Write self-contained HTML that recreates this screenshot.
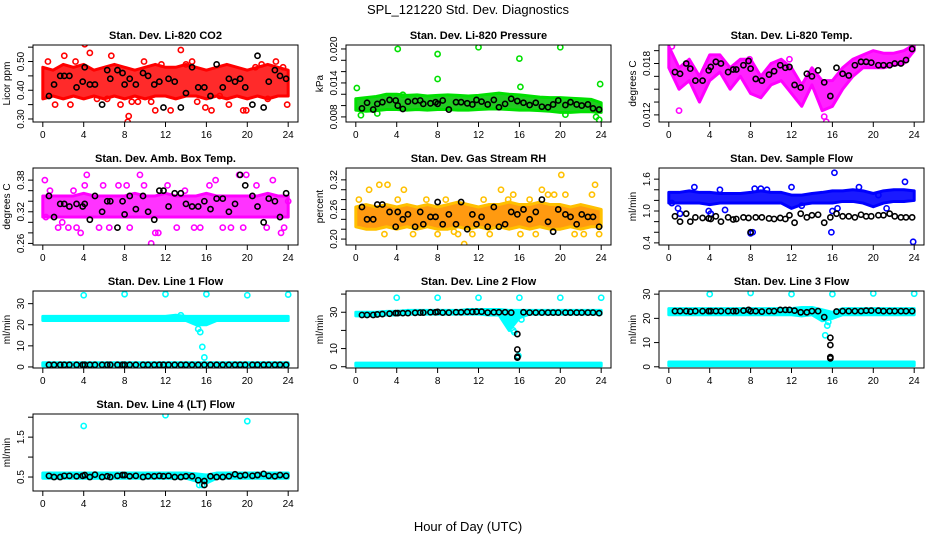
<!DOCTYPE html>
<html><head><meta charset="utf-8">
<style>
html,body{margin:0;padding:0;background:#fff;}
svg{display:block;font-family:"Liberation Sans",sans-serif;}
</style></head>
<body>
<svg id="chart" width="936" height="540" viewBox="0 0 936 540">
<text x="468" y="14" text-anchor="middle" font-size="13">SPL_121220  Std. Dev. Diagnostics</text>
<text x="468" y="531" text-anchor="middle" font-size="13">Hour of Day (UTC)</text>
</svg>
<script>
const bandHours=[0,1,2,3,4,5,6,7,8,9,10,11,12,13,14,15,16,17,18,19,20,21,22,23,24];
const blackHours=[0.6,1.1,1.7,2.1,2.6,3.3,3.9,4.1,4.6,5.1,5.8,6.3,6.6,7.3,7.8,8.0,8.5,9.1,9.8,10.3,10.9,11.4,11.8,12.3,12.9,13.5,14.0,14.6,15.2,15.8,16.4,17.0,17.6,18.2,18.8,19.3,19.8,20.5,21.0,21.6,22.1,22.7,23.2,23.8];
const xTicks=[0,4,8,12,16,20,24];

// Panel 1: CO2
const co2Lo=[0.37,0.38,0.37,0.38,0.37,0.38,0.37,0.38,0.37,0.38,0.37,0.38,0.38,0.37,0.38,0.38,0.37,0.38,0.37,0.38,0.37,0.38,0.37,0.38,0.38];
const co2Hi=[0.48,0.47,0.49,0.48,0.49,0.47,0.48,0.49,0.48,0.47,0.48,0.49,0.48,0.48,0.49,0.48,0.47,0.48,0.49,0.48,0.47,0.48,0.49,0.48,0.47];
const co2OutH=[0.5,1.2,2.1,2.7,3.2,4.1,4.6,5.3,6.3,6.7,7.6,8.3,8.4,8.7,9.3,9.9,10.6,11.0,11.6,12.5,13.5,14.0,14.6,15.1,15.9,16.5,17.3,18.2,19.6,19.9,20.8,21.4,22.0,22.8,23.5,23.9];
const co2OutV=[0.50,0.35,0.52,0.35,0.50,0.56,0.53,0.37,0.37,0.52,0.35,0.29,0.31,0.36,0.36,0.50,0.36,0.33,0.49,0.33,0.54,0.49,0.50,0.36,0.34,0.33,0.38,0.35,0.33,0.33,0.48,0.49,0.37,0.50,0.48,0.35];
const co2Black=[0.38,0.42,0.45,0.45,0.45,0.41,0.43,0.48,0.42,0.42,0.35,0.47,0.44,0.47,0.46,0.42,0.44,0.42,0.46,0.45,0.42,0.43,0.34,0.44,0.43,0.34,0.39,0.48,0.41,0.41,0.38,0.49,0.41,0.44,0.43,0.44,0.41,0.35,0.52,0.34,0.43,0.47,0.45,0.44];

// Panel 2: Pressure
const presLo=[0.0092,0.0090,0.0091,0.0093,0.0093,0.0092,0.0093,0.0092,0.0093,0.0093,0.0092,0.0092,0.0093,0.0094,0.0094,0.0093,0.0092,0.0092,0.0091,0.0090,0.0088,0.0088,0.0089,0.0089,0.0088];
const presHi=[0.0112,0.0114,0.0116,0.0120,0.0120,0.0118,0.0119,0.0117,0.0118,0.0119,0.0118,0.0117,0.0118,0.0120,0.0122,0.0120,0.0119,0.0117,0.0115,0.0114,0.0114,0.0113,0.0112,0.0111,0.0105];
const presOutH=[0.1,0.5,2.1,4.1,4.6,8.0,8.0,12.0,16.0,16.1,20.0,23.9,23.8,23.5,20.5];
const presOutV=[0.0131,0.0083,0.0086,0.0200,0.0119,0.0191,0.0147,0.0203,0.0183,0.0133,0.0203,0.0138,0.0075,0.0080,0.0084];
const presBlack=[0.0095,0.0105,0.0093,0.0103,0.0106,0.0110,0.0109,0.0100,0.0094,0.0107,0.0108,0.0109,0.0103,0.0104,0.0106,0.0103,0.0109,0.0093,0.0106,0.0106,0.0104,0.0102,0.0110,0.0107,0.0102,0.0110,0.0097,0.0103,0.0112,0.0108,0.0105,0.0101,0.0105,0.0098,0.0097,0.0102,0.0109,0.0101,0.0106,0.0102,0.0100,0.0102,0.0095,0.0093];

// Panel 3: Li-820 Temp
const tempLo=[0.0175,0.0150,0.0160,0.0135,0.0160,0.0170,0.0150,0.0165,0.0145,0.0140,0.0155,0.0160,0.0145,0.0130,0.0155,0.0125,0.0130,0.0150,0.0165,0.0175,0.0175,0.0175,0.0178,0.0180,0.0195];
const tempHi=[0.0200,0.0175,0.0185,0.0165,0.0190,0.0190,0.0175,0.0185,0.0185,0.0165,0.0180,0.0185,0.0175,0.0155,0.0175,0.0160,0.0160,0.0175,0.0185,0.0190,0.0195,0.0192,0.0192,0.0195,0.0202];
const tempOutH=[0.3,1.0,15.4,15.2,7.9,11.8];
const tempOutV=[0.0200,0.0125,0.0112,0.0118,0.0185,0.0185];
const tempBlack=[0.0170,0.0168,0.0180,0.0174,0.0160,0.0160,0.0172,0.0176,0.0182,0.0180,0.0170,0.0173,0.0173,0.0178,0.0183,0.0174,0.0162,0.0160,0.0167,0.0171,0.0178,0.0175,0.0176,0.0155,0.0152,0.0168,0.0165,0.0172,0.0158,0.0142,0.0175,0.0168,0.0166,0.0178,0.0182,0.0182,0.0181,0.0178,0.0178,0.0178,0.0180,0.0180,0.0184,0.0197];

// Panel 4: Amb Box Temp
const ambLo=[0.31,0.31,0.31,0.31,0.31,0.31,0.31,0.31,0.31,0.31,0.31,0.31,0.31,0.31,0.31,0.31,0.31,0.31,0.31,0.31,0.31,0.31,0.31,0.31,0.31];
const ambHi=[0.35,0.35,0.35,0.35,0.355,0.35,0.35,0.35,0.35,0.355,0.35,0.35,0.355,0.35,0.35,0.35,0.355,0.35,0.35,0.35,0.35,0.35,0.355,0.35,0.35];
const ambOutH=[0.2,0.3,0.7,1.5,1.9,2.5,3.0,3.3,4.1,4.3,5.5,5.9,6.5,7.4,8.5,9.5,9.9,10.6,11.0,11.3,12.2,13.1,13.9,14.8,15.4,16.3,16.9,17.6,18.4,19.2,19.6,19.9,20.9,21.9,22.5,23.3,23.6,24.0,3.7,8.2];
const ambOutV=[0.38,0.31,0.36,0.29,0.30,0.29,0.36,0.29,0.37,0.39,0.29,0.37,0.29,0.37,0.29,0.39,0.37,0.26,0.28,0.28,0.37,0.29,0.36,0.29,0.29,0.37,0.38,0.29,0.29,0.39,0.29,0.39,0.37,0.29,0.38,0.28,0.29,0.34,0.28,0.37];
const ambBlack=[0.35,0.31,0.335,0.335,0.33,0.335,0.33,0.335,0.305,0.35,0.32,0.34,0.34,0.29,0.34,0.315,0.35,0.325,0.35,0.32,0.305,0.36,0.36,0.33,0.355,0.355,0.335,0.33,0.33,0.34,0.325,0.345,0.345,0.32,0.335,0.39,0.37,0.35,0.33,0.30,0.345,0.34,0.31,0.355];

// Panel 5: Gas Stream RH
const rhLo=[0.225,0.22,0.22,0.225,0.22,0.225,0.22,0.225,0.22,0.22,0.225,0.22,0.225,0.22,0.225,0.22,0.225,0.22,0.225,0.22,0.22,0.225,0.22,0.225,0.225];
const rhHi=[0.265,0.27,0.265,0.27,0.265,0.27,0.265,0.27,0.265,0.27,0.275,0.27,0.265,0.27,0.27,0.275,0.27,0.27,0.275,0.27,0.27,0.265,0.27,0.265,0.26];
const rhOutH=[0.3,1.3,2.3,2.8,3.1,4.1,4.7,5.6,6.9,8.0,8.8,9.6,10.0,10.6,11.4,12.5,13.1,14.2,14.9,15.4,16.1,17.0,17.6,18.2,18.8,19.4,20.1,20.5,21.4,22.3,23.1,23.4,23.8];
const rhOutV=[0.28,0.30,0.31,0.21,0.31,0.28,0.30,0.21,0.28,0.21,0.28,0.215,0.21,0.19,0.21,0.28,0.21,0.30,0.28,0.29,0.21,0.28,0.21,0.30,0.29,0.29,0.33,0.29,0.21,0.21,0.29,0.31,0.21];
const rhBlack=[0.265,0.24,0.24,0.27,0.27,0.255,0.225,0.255,0.24,0.25,0.225,0.255,0.23,0.245,0.245,0.275,0.23,0.25,0.23,0.275,0.22,0.25,0.23,0.245,0.225,0.265,0.225,0.23,0.255,0.25,0.26,0.24,0.255,0.28,0.235,0.215,0.26,0.25,0.245,0.23,0.25,0.245,0.245,0.225];

// Panel 6: Sample Flow
const flowLo=[1.15,1.15,1.15,1.15,1.12,1.15,1.15,1.15,1.15,1.15,1.15,1.15,1.05,1.12,1.15,1.15,1.15,1.18,1.18,1.15,1.08,1.15,1.18,1.18,1.2];
const flowHi=[1.35,1.35,1.38,1.35,1.35,1.33,1.33,1.33,1.35,1.38,1.35,1.35,1.3,1.3,1.33,1.35,1.38,1.38,1.4,1.38,1.33,1.38,1.4,1.4,1.38];
const flowOutH=[0.3,0.9,1.1,2.5,3.9,4.1,5.0,5.5,8.0,8.2,8.4,9.0,12.0,15.9,16.2,16.0,16.5,18.6,20.5,21.3,23.1,23.9,9.6,13.0];
const flowOutV=[1.15,1.05,0.95,1.45,1.0,0.95,1.4,1.02,0.58,0.6,1.42,1.42,1.45,0.6,1.72,1.0,1.05,1.45,1.3,1.05,1.55,0.42,1.4,1.1];
const flowBlack=[0.9,0.8,0.95,0.8,0.88,0.87,0.86,0.85,0.9,0.8,0.88,0.84,0.85,0.88,0.87,0.6,0.88,0.88,0.86,0.85,0.87,0.85,0.92,0.78,0.95,0.88,0.92,0.93,0.78,0.88,0.95,0.9,0.9,0.88,0.93,0.9,0.9,0.92,0.92,0.95,0.9,0.88,0.88,0.88];

// Panel 7: Line 1 Flow
const l1Lo=[22,22,22,22,22,22,22,22,22,22,22,22,22,22,22,20,20,22,22,22,22,22,22,22,22];
const l1Hi=[24,24,24,24,24,24,24,24,24,24,24,24,24,24.5,24,24,24,24,24,24,24,24,24,24,24];
const l1LowLo=[0.5,0.5,0.5,0.5,0.5,0.5,0.5,0.5,0.5,0.5,0.5,0.5,0.5,0.5,0.5,0.5,0.5,0.5,0.5,0.5,0.5,0.5,0.5,0.5,0.5];
const l1LowHi=[2,2,2,2,2,2,2,2,2,2,2,2,2,2,2,2,2,2,2,2,2,2,2,2,2];
const l1OutH=[4,8,12,16,20,24,15.2,15.4,15.6,15.8,15.9,13.5];
const l1OutV=[34,34.5,34.5,34.5,34,34.3,18,16.5,9.5,4.5,21,24.5];
const l1Black=[1,1,1,1,1,1,1,1,1,1,1,1,1,1,1,1,1,1,1,1,1,1,1,1,1,1,1,1,1,1,1,1,1,1,1,1,1,1,1,1,1,1,1,1];

// Panel 8: Line 2 Flow
const l2Lo=[28,28,28,28.5,28.5,29,29,29,29,29,29,29,29,28.5,28.5,20,27,29,29,29,29,29,29,29,29];
const l2Hi=[30,30,30,30.5,30.5,31,31,31,31,31,31,31.5,31.5,31.5,31.5,31,31,31,31,31,31,31,31,31,31];
const l2LowLo=[0.5,0.5,0.5,0.5,0.5,0.5,0.5,0.5,0.5,0.5,0.5,0.5,0.5,0.5,0.5,0.5,0.5,0.5,0.5,0.5,0.5,0.5,0.5,0.5,0.5];
const l2LowHi=[2,2,2,2,2,2,2,2,2,2,2,2,2,2,2,2,2,2,2,2,2,2,2,2,2];
const l2OutH=[4,8,12,16,20,24,15.4,15.5,15.6,16.2,15.9];
const l2OutV=[38,38,38,38,38,38,20,19,27,26,6];
const l2Black=[28.5,28.5,28.5,28.8,29,29.2,29.5,29.5,29.5,29.5,29.7,29.8,29.8,30,30,30.2,29.8,29.8,30,30,30.2,30.2,30.3,30.3,29.8,30,30,30,29.8,18,30,29.8,29.8,29.8,29.8,29.8,29.8,29.8,29.8,29.8,29.8,29.8,29.8,29.5];
const l2ExtraH=[15.8,15.8,15.8];
const l2ExtraV=[9.5,5.5,5];

// Panel 9: Line 3 Flow
const l3Lo=[21.5,21.5,21.5,21.5,21.5,21.5,21.5,21.5,21.5,21.5,21.5,21.5,21.5,21,21.5,19,20,21.5,21.5,21.5,21.5,21.5,21.5,21.5,21.5];
const l3Hi=[24,24,24,24,24,24,24,24,24,24,24,24,24,24.5,24.5,23.5,22.5,24,24,24,24,24,24,24,24];
const l3LowLo=[0.5,0.5,0.5,0.5,0.5,0.5,0.5,0.5,0.5,0.5,0.5,0.5,0.5,0.5,0.5,0.5,0.5,0.5,0.5,0.5,0.5,0.5,0.5,0.5,0.5];
const l3LowHi=[2,2,2,2,2,2,2,2,2,2,2,2,2,2,2,2,2,2,2,2,2,2,2,2,2];
const l3OutH=[4,8,12,16,20,24,15.3,15.5,15.6];
const l3OutV=[30,30.5,30,30,30.3,30.2,13,17,18.5];
const l3Black=[23,23,23,22.8,23,23,23,23,23,23,23,23,23,23.2,23.5,23,23,22.8,23,23,23.5,23.5,23.5,23.2,22.5,22.5,23,23,20.5,12,22.8,23,23,23,23,23.2,23.2,23.2,23,23,23,23,23,23];
const l3ExtraH=[15.8,15.8,15.8];
const l3ExtraV=[9,4,3.5];

// Panel 10: Line 4 (LT) Flow
const l4Lo=[0.47,0.47,0.47,0.47,0.47,0.47,0.47,0.47,0.47,0.47,0.47,0.47,0.47,0.47,0.47,0.4,0.35,0.47,0.47,0.47,0.47,0.47,0.47,0.47,0.47];
const l4Hi=[0.6,0.6,0.6,0.6,0.6,0.6,0.6,0.6,0.6,0.6,0.6,0.6,0.6,0.6,0.6,0.58,0.55,0.6,0.6,0.6,0.6,0.6,0.6,0.6,0.6];
const l4OutH=[4,12,20,15.3,15.6];
const l4OutV=[1.78,2.05,1.9,0.3,0.3];
const l4Black=[0.53,0.5,0.5,0.53,0.53,0.52,0.53,0.55,0.5,0.56,0.5,0.52,0.5,0.53,0.55,0.55,0.52,0.53,0.5,0.52,0.52,0.53,0.52,0.53,0.5,0.5,0.52,0.52,0.42,0.3,0.52,0.5,0.5,0.52,0.57,0.53,0.55,0.53,0.55,0.58,0.53,0.52,0.55,0.53];
const l4ExtraH=[15.8];
const l4ExtraV=[0.4];

const NS='http://www.w3.org/2000/svg';
const svg=document.getElementById('chart');
function mk(tag,attrs,parent){const e=document.createElementNS(NS,tag);for(const k in attrs)e.setAttribute(k,attrs[k]);(parent||svg).appendChild(e);return e;}

const colX=[33,346,659], rowY=[45,168,291,414], W=265, H=77;

function panel(cfg){
  const bx=colX[cfg.col], by=rowY[cfg.row];
  const g=mk('g',{});
  
  
  const xs=v=>bx+W*(v+0.96)/25.92;
  const ys=v=>by+H*(cfg.ymax-v)/(cfg.ymax-cfg.ymin);
  const clip='clip-'+cfg.name;
  const cp=mk('clipPath',{id:clip},g);mk('rect',{x:bx,y:by,width:W,height:H},cp);
  const plot=mk('g',{'clip-path':'url(#'+clip+')'},g);
  
  
  (cfg.bands||[]).forEach(([lo,hi])=>{
    let pts=[];
    bandHours.forEach((h,i)=>pts.push(xs(h)+','+ys(hi[i])));
    for(let i=bandHours.length-1;i>=0;i--)pts.push(xs(bandHours[i])+','+ys(lo[i]));
    const p=mk('polygon',{points:pts.join(' '),fill:cfg.fill,stroke:cfg.color,'stroke-width':3,'stroke-linejoin':'round'},plot);
    
    
  });
  const circ=(h,v,col,nm)=>{const c=mk('circle',{cx:xs(h),cy:ys(v),r:2.6,fill:'none',stroke:col,'stroke-width':1.6},plot);
    
    };
  cfg.outH.forEach((h,i)=>circ(h,cfg.outV[i],cfg.color,'point'));
  blackHours.forEach((h,i)=>{if(i<cfg.black.length)circ(h,cfg.black[i],'#000','mean-point');});
  (cfg.extraH||[]).forEach((h,i)=>circ(h,cfg.extraV[i],'#000','mean-point'));
  const box=mk('rect',{x:bx,y:by,width:W,height:H,fill:'none',stroke:'#000','stroke-width':1},g);
  
  
  const t=mk('text',{x:bx+W/2,y:by-6,'text-anchor':'middle','font-size':11,'font-weight':'bold'},g);
  t.textContent=cfg.title;
  
  
  // x axis
  const yb=by+H;
  const xa=mk('line',{x1:xs(0),x2:xs(24),y1:yb,y2:yb,stroke:'#000'},g);
  
  
  xTicks.forEach(v=>{mk('line',{x1:xs(v),x2:xs(v),y1:yb,y2:yb+5,stroke:'#000'},g);
    const l=mk('text',{x:xs(v),y:yb+16,'text-anchor':'middle','font-size':10},g);l.textContent=v;
    
    });
  // y axis
  const yt=cfg.yticks;
  const ya=mk('line',{x1:bx,x2:bx,y1:ys(yt[0]),y2:ys(yt[yt.length-1]),stroke:'#000'},g);
  
  
  yt.forEach(v=>mk('line',{x1:bx-5,x2:bx,y1:ys(v),y2:ys(v),stroke:'#000'},g));
  cfg.ylabels.forEach((lab,i)=>{const yy=ys(cfg.ylabelVals[i]),xx=bx-9;
    const l=mk('text',{x:xx,y:yy,transform:'rotate(-90 '+xx+' '+yy+')','text-anchor':'middle','font-size':10},g);l.textContent=lab;
    
    });
  const tx=bx-23,ty=by+H/2;
  const yl=mk('text',{x:tx,y:ty,transform:'rotate(-90 '+tx+' '+ty+')','text-anchor':'middle','font-size':10},g);
  yl.textContent=cfg.ytitle;
  
  
}

panel({name:'co2-panel',col:0,row:0,title:'Stan. Dev. Li-820 CO2',ytitle:'Licor ppm',ymin:0.2895,ymax:0.5575,color:'#ff0000',fill:'#ff2a2a',
  bands:[[co2Lo,co2Hi]],outH:co2OutH,outV:co2OutV,black:co2Black,yticks:[0.30,0.35,0.40,0.45,0.50,0.55],ylabels:['0.30','0.40','0.50'],ylabelVals:[0.30,0.40,0.50]});
panel({name:'pressure-panel',col:1,row:0,title:'Stan. Dev. Li-820 Pressure',ytitle:'kPa',ymin:0.0071,ymax:0.0207,color:'#00e000',fill:'#22cc22',
  bands:[[presLo,presHi]],outH:presOutH,outV:presOutV,black:presBlack,yticks:[0.008,0.010,0.012,0.014,0.016,0.018,0.020],ylabels:['0.008','0.014','0.020'],ylabelVals:[0.008,0.014,0.020]});
panel({name:'li820-temp-panel',col:2,row:0,title:'Stan. Dev. Li-820 Temp.',ytitle:'degrees C',ymin:0.01117,ymax:0.02016,color:'#ff00ff',fill:'#ff22ff',
  bands:[[tempLo,tempHi]],outH:tempOutH,outV:tempOutV,black:tempBlack,yticks:[0.012,0.0135,0.015,0.0165,0.018,0.0195],ylabels:['0.012','0.018'],ylabelVals:[0.012,0.018]});
panel({name:'amb-box-temp-panel',col:0,row:1,title:'Stan. Dev. Amb. Box Temp.',ytitle:'degrees C',ymin:0.257,ymax:0.403,color:'#ff00ff',fill:'#ff33ff',
  bands:[[ambLo,ambHi]],outH:ambOutH,outV:ambOutV,black:ambBlack,yticks:[0.26,0.28,0.30,0.32,0.34,0.36,0.38],ylabels:['0.26','0.32','0.38'],ylabelVals:[0.26,0.32,0.38]});
panel({name:'gas-stream-rh-panel',col:1,row:1,title:'Stan. Dev. Gas Stream RH',ytitle:'percent',ymin:0.188,ymax:0.344,color:'#ffc000',fill:'#ff9a10',
  bands:[[rhLo,rhHi]],outH:rhOutH,outV:rhOutV,black:rhBlack,yticks:[0.20,0.22,0.24,0.26,0.28,0.30,0.32],ylabels:['0.20','0.26','0.32'],ylabelVals:[0.20,0.26,0.32]});
panel({name:'sample-flow-panel',col:2,row:1,title:'Stan. Dev. Sample Flow',ytitle:'ml/min',ymin:0.36,ymax:1.81,color:'#0000ff',fill:'#1a1aff',
  bands:[[flowLo,flowHi]],outH:flowOutH,outV:flowOutV,black:flowBlack,yticks:[0.4,0.6,0.8,1.0,1.2,1.4,1.6],ylabels:['0.4','1.0','1.6'],ylabelVals:[0.4,1.0,1.6]});
panel({name:'line1-flow-panel',col:0,row:2,title:'Stan. Dev. Line 1 Flow',ytitle:'ml/min',ymin:-0.5,ymax:36,color:'#00ffff',fill:'#00ffff',
  bands:[[l1Lo,l1Hi],[l1LowLo,l1LowHi]],outH:l1OutH,outV:l1OutV,black:l1Black,yticks:[0,10,20,30],ylabels:['0','10','20','30'],ylabelVals:[0,10,20,30]});
panel({name:'line2-flow-panel',col:1,row:2,title:'Stan. Dev. Line 2 Flow',ytitle:'ml/min',ymin:-0.7,ymax:41.7,color:'#00ffff',fill:'#00ffff',
  bands:[[l2Lo,l2Hi],[l2LowLo,l2LowHi]],outH:l2OutH,outV:l2OutV,black:l2Black,extraH:l2ExtraH,extraV:l2ExtraV,yticks:[0,10,20,30,40],ylabels:['0','10','30'],ylabelVals:[0,10,30]});
panel({name:'line3-flow-panel',col:2,row:2,title:'Stan. Dev. Line 3 Flow',ytitle:'ml/min',ymin:-0.5,ymax:31.3,color:'#00ffff',fill:'#00ffff',
  bands:[[l3Lo,l3Hi],[l3LowLo,l3LowHi]],outH:l3OutH,outV:l3OutV,black:l3Black,extraH:l3ExtraH,extraV:l3ExtraV,yticks:[0,10,20,30],ylabels:['0','10','20','30'],ylabelVals:[0,10,20,30]});
panel({name:'line4-flow-panel',col:0,row:3,title:'Stan. Dev. Line 4 (LT) Flow',ytitle:'ml/min',ymin:0.15,ymax:2.08,color:'#00ffff',fill:'#00ffff',
  bands:[[l4Lo,l4Hi]],outH:l4OutH,outV:l4OutV,black:l4Black,extraH:l4ExtraH,extraV:l4ExtraV,yticks:[0.5,1.0,1.5,2.0],ylabels:['0.5','1.5'],ylabelVals:[0.5,1.5]});
</script>
</body></html>
